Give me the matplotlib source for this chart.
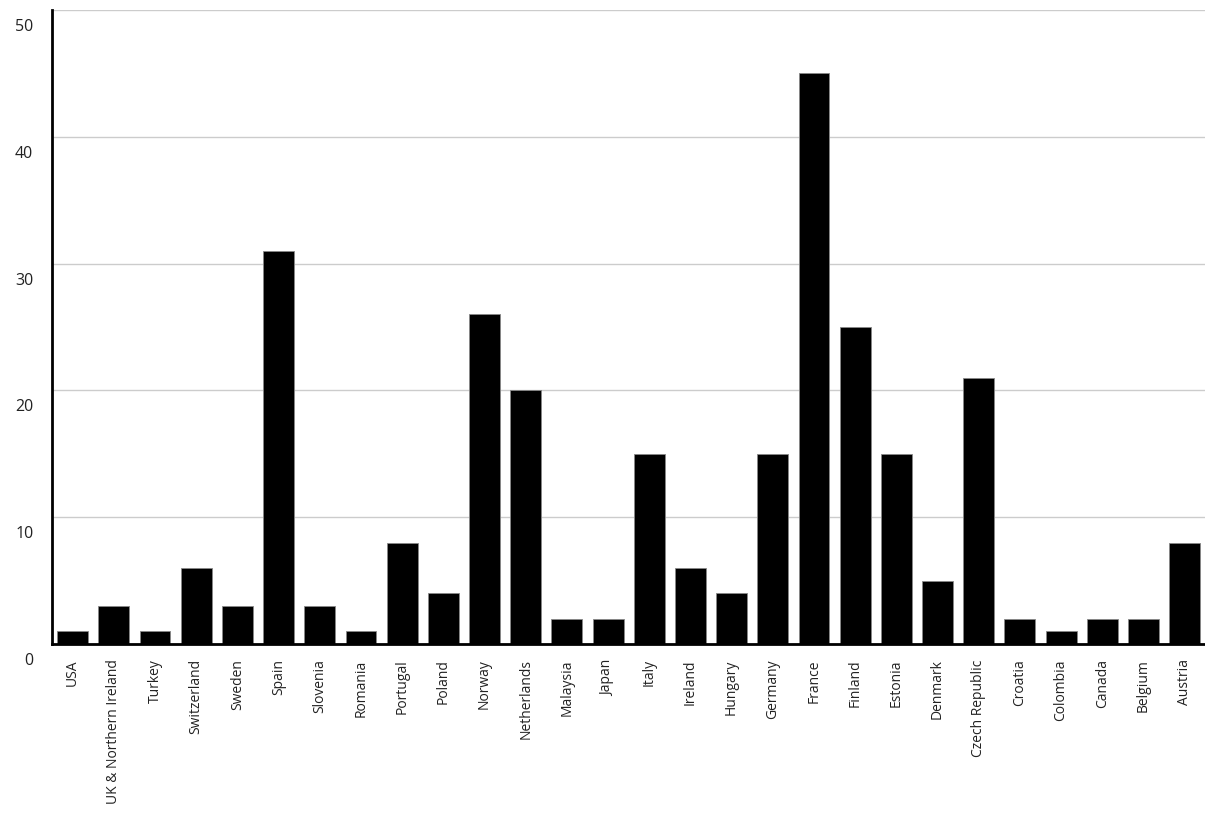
import matplotlib
matplotlib.use("Agg")
from matplotlib import pyplot as plt
from matplotlib.transforms import ScaledTranslation

countries = ["USA", "UK & Northern Ireland", "Turkey", "Switzerland", "Sweden", "Spain",
             "Slovenia", "Romania", "Portugal", "Poland", "Norway", "Netherlands",
             "Malaysia", "Japan", "Italy", "Ireland", "Hungary", "Germany", "France",
             "Finland", "Estonia", "Denmark", "Czech Republic", "Croatia", "Colombia",
             "Canada", "Belgium", "Austria"]
counts = [1, 3, 1, 6, 3, 31, 3, 1, 8, 4, 26, 20, 2, 2, 15, 6, 4, 15, 45, 25, 15, 5, 21,
          2, 1, 2, 2, 8]
y_ticks = [0, 10, 20, 30, 40, 50]

plt.rcParams['font.family'] = ['Open Sans', 'DejaVu Sans']

fig = plt.figure(figsize=(12.05, 8.14), dpi=100)
ax = fig.add_axes([0.0432, 0.2088, 0.957, 0.779])

x = list(range(len(countries)))
ax.bar(x, counts, width=0.75, color="black", edgecolor="#888888", linewidth=0.6, zorder=3)

ax.set_xlim(-0.5, len(countries) - 0.5)
ax.set_ylim(0, 50)
ax.set_yticks(y_ticks)
ax.set_yticklabels([str(v) for v in y_ticks], fontsize=11.5, color="#222222")
ax.set_xticks(x)
ax.set_xticklabels(countries, rotation=90, fontsize=10, color="#222222")
ax.tick_params(axis="both", length=0)
ax.tick_params(axis="y", pad=13.5)
ax.tick_params(axis="x", pad=11)

# y labels sit a bit below their grid line
offset = ScaledTranslation(0, -15 / 100, fig.dpi_scale_trans)
for lbl in ax.get_yticklabels():
    lbl.set_transform(lbl.get_transform() + offset)

ax.grid(axis="y", color="#cccccc", linewidth=1, zorder=0)
ax.set_axisbelow(True)
for side in ["top", "right"]:
    ax.spines[side].set_visible(False)
ax.spines["left"].set_linewidth(2)
ax.spines["bottom"].set_linewidth(2)
ax.spines["left"].set_zorder(4)
ax.spines["bottom"].set_zorder(4)

fig.savefig("out.png", dpi=100)
